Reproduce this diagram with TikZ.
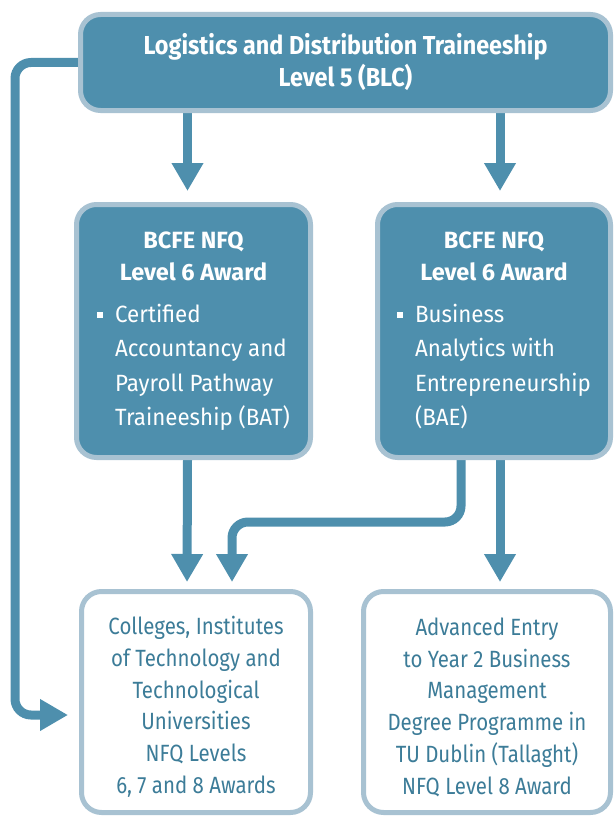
\documentclass[tikz,border=0pt]{standalone}
\usepackage{fontspec}
\setmainfont{Fira Sans}[FakeStretch=0.87]
\newfontfamily\headfont{Fira Sans}[FakeStretch=1.0]
\newfontfamily\titlefont{Fira Sans}[FakeStretch=0.9]
\newfontfamily\widebody{Fira Sans}[FakeStretch=0.95]
\usepackage{xcolor}
\usetikzlibrary{arrows.meta, backgrounds, calc}
\definecolor{steel}{RGB}{78,143,173}
\definecolor{frame}{RGB}{168,194,210}
\definecolor{inktext}{RGB}{60,124,152}
\newcommand\sqbul{\raisebox{5pt}{\rule{6pt}{6pt}}}
\newcommand\awardhead{\headfont\bfseries}
\newcommand\topgap[1]{\rule{0pt}{#1}}
\renewcommand\arraystretch{1.07}

\begin{document}
\begin{tikzpicture}[x=1pt, y=-1pt,
  darkbox/.style={rectangle, rounded corners=20pt, draw=frame, line width=5pt,
                  fill=steel, text=white, align=center,
                  font=\fontsize{23.5}{32}\selectfont},
  lightbox/.style={rectangle, rounded corners=20pt, draw=frame, line width=5pt,
                   fill=white, text=inktext, align=center,
                   font=\fontsize{23.5}{31.8}\selectfont},
  arr/.style={-{Triangle[length=28pt, width=30pt]}, line width=9pt, color=steel},
  roundpath/.style={rounded corners=16pt}
]
  \useasboundingbox (0,0) rectangle (614,816);

  \node[darkbox, minimum width=530pt, minimum height=96pt,
        font=\fontsize{26}{32}\titlefont\bfseries] (blc) at (345.5,62.5)
    {Logistics and Distribution Traineeship\\ Level 5 (BLC)};

  \node[darkbox, minimum width=234pt, minimum height=253pt] (bat) at (193.5,331)
    {\topgap{22pt}\awardhead BCFE NFQ\\ \awardhead Level 6 Award\\[17pt]
     \mdseries\widebody
     \begin{tabular}{@{}l@{\hspace{12pt}}l@{}}
       \sqbul & Certified\\ & Accountancy and\\ & Payroll Pathway\\ & Traineeship (BAT)
     \end{tabular}};
  \node[darkbox, minimum width=233pt, minimum height=253pt] (bae) at (494,331)
    {\topgap{22pt}\awardhead BCFE NFQ\\ \awardhead Level 6 Award\\[17pt]
     \mdseries\widebody
     \begin{tabular}{@{}l@{\hspace{12pt}}l@{}}
       \sqbul & Business\\ & Analytics with\\ & Entrepreneurship\\ & (BAE)
     \end{tabular}};

  \node[lightbox, minimum width=229pt, minimum height=221pt] (colleges) at (196,702)
    {\topgap{28pt}Colleges, Institutes\\ of Technology and\\ Technological\\ Universities\\
     NFQ Levels\\ 6, 7 and 8 Awards};
  \node[lightbox, minimum width=247pt, minimum height=221pt] (tud) at (487,702)
    {\topgap{28pt}Advanced Entry\\ to Year 2 Business\\ Management\\ Degree Programme in\\
     TU Dublin (Tallaght)\\ NFQ Level 8 Award};

  \coordinate (lane) at (15,0);
  \coordinate (entry) at ([yshift=-13pt]colleges.west);

  \begin{scope}[on background layer]
    \draw[arr, shorten >=11pt] ($(bat.north |- blc.south)+(-6,0)$) -- ([xshift=-6pt]bat.north);
    \draw[arr, shorten >=11pt] ($(bae.north |- blc.south)+(6,0)$) -- ([xshift=6pt]bae.north);
    \draw[arr, roundpath, shorten >=11pt] (blc.west) -| (lane |- entry) -- (entry);
    \draw[arr, shorten >=7pt] ([xshift=-6pt]bat.south) -- ([xshift=-9pt]colleges.north);
    \draw[arr, roundpath, shorten >=7pt] ([xshift=-33pt]bae.south) -- ++(0,62)
      -| ([xshift=36pt]colleges.north);
    \draw[arr, shorten >=7pt] ([xshift=6pt]bae.south) -- ([xshift=13pt]tud.north);
  \end{scope}
\end{tikzpicture}
\end{document}
